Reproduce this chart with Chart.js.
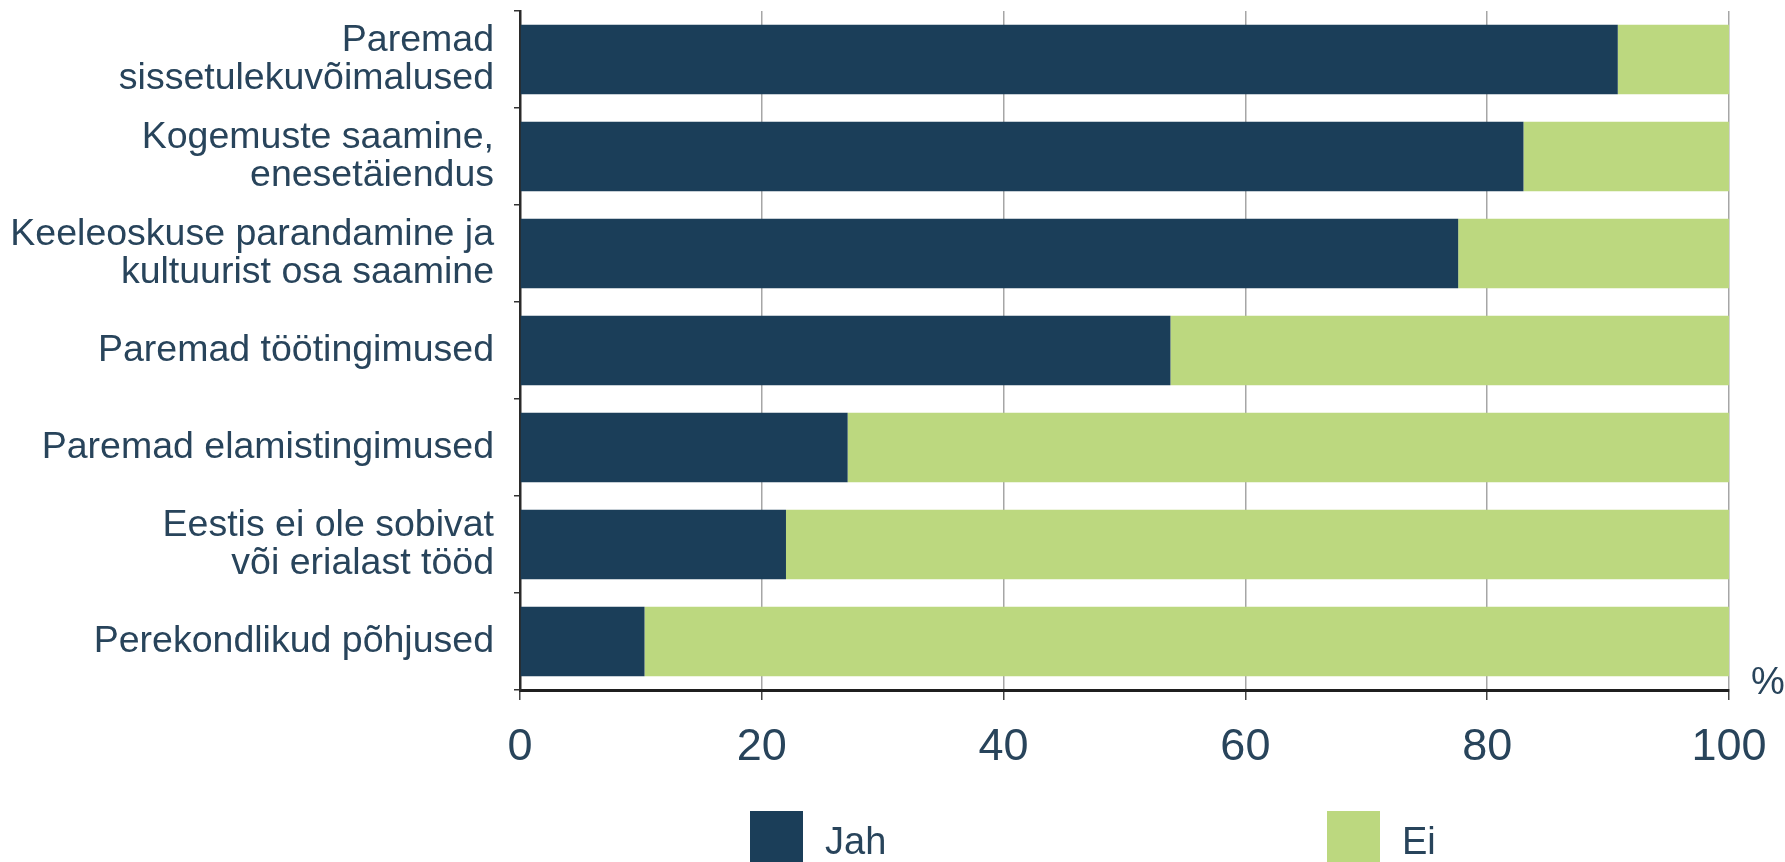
<!DOCTYPE html>
<html>
<head>
<meta charset="utf-8">
<script src="https://cdn.jsdelivr.net/npm/chart.js@4"></script>
<style>
html,body{margin:0;padding:0;background:#fff;}
#wrap{width:1785px;height:862px;position:relative;}
</style>
</head>
<body>
<div id="wrap"><canvas id="c"></canvas></div>
<script>
const categories = [
  ["Paremad", "sissetulekuvõimalused"],
  ["Kogemuste saamine,", "enesetäiendus"],
  ["Keeleoskuse parandamine ja", "kultuurist osa saamine"],
  "Paremad töötingimused",
  "Paremad elamistingimused",
  ["Eestis ei ole sobivat", "või erialast tööd"],
  "Perekondlikud põhjused"
];
const jahValues = [90.8, 83.0, 77.6, 53.8, 27.1, 22.0, 10.3];
const eiValues  = [9.2, 17.0, 22.4, 46.2, 72.9, 78.0, 89.7];
const seriesNames = ["Jah", "Ei"];
const xTicks = [0, 20, 40, 60, 80, 100];
const unitLabel = "%";

const TEXT = "#28445b";
const FONT = "'Liberation Sans', Arial, sans-serif";

const extras = {
  id: 'extras',
  afterDraw(chart) {
    const ctx = chart.ctx;
    const a = chart.chartArea;
    ctx.save();
    // unit label
    ctx.fillStyle = TEXT;
    ctx.font = "38px " + FONT;
    ctx.textAlign = "left";
    ctx.textBaseline = "alphabetic";
    ctx.fillText(unitLabel, a.right + 22, a.bottom + 4);
    // legend
    const pos = [750, 1327];
    ctx.font = "38px " + FONT;
    ctx.textBaseline = "middle";
    chart.data.datasets.forEach((ds, i) => {
      ctx.fillStyle = ds.backgroundColor;
      ctx.fillRect(pos[i], 811, 53, 60);
      ctx.fillStyle = TEXT;
      ctx.fillText(ds.label, pos[i] + 75, 844);
    });
    ctx.restore();
  }
};

new Chart(document.getElementById('c'), {
  type: 'bar',
  data: {
    labels: categories,
    datasets: [
      { label: seriesNames[0], data: jahValues, backgroundColor: "#1b3e59" },
      { label: seriesNames[1], data: eiValues, backgroundColor: "#bcd87f" }
    ]
  },
  options: {
    indexAxis: 'y',
    responsive: true,
    maintainAspectRatio: false,
    animation: false,
    layout: { padding: { top: 11, right: 56, bottom: 0, left: 0 } },
    datasets: { bar: { barPercentage: 0.716, categoryPercentage: 1.0 } },
    plugins: { legend: { display: false }, tooltip: { enabled: false } },
    scales: {
      x: {
        stacked: true,
        min: 0, max: 100,
        afterBuildTicks(scale) { scale.ticks = xTicks.map(v => ({ value: v })); },
        afterFit(scale) { scale.height = 172; scale.paddingLeft = 0; scale.paddingRight = 0; },
        grid: { color: "#a6a6a6", lineWidth: 1.5, tickLength: 10, drawTicks: true, tickColor: "#444" },
        border: { display: true, color: "#1f1f1f", width: 3 },
        ticks: { color: TEXT, font: { family: FONT, size: 45 }, padding: 21 }
      },
      y: {
        stacked: true,
        afterFit(scale) { scale.width = 520; scale.paddingTop = 0; scale.paddingBottom = 0; },
        grid: { display: true, drawOnChartArea: false, offset: true, tickLength: 6, color: "#333", lineWidth: 1.5 },
        border: { display: true, color: "#2a2a2a", width: 2.5 },
        ticks: { color: TEXT, font: { family: FONT, size: 37.5, lineHeight: 1.0 }, padding: 20 }
      }
    }
  },
  plugins: [extras]
});
</script>
</body>
</html>
